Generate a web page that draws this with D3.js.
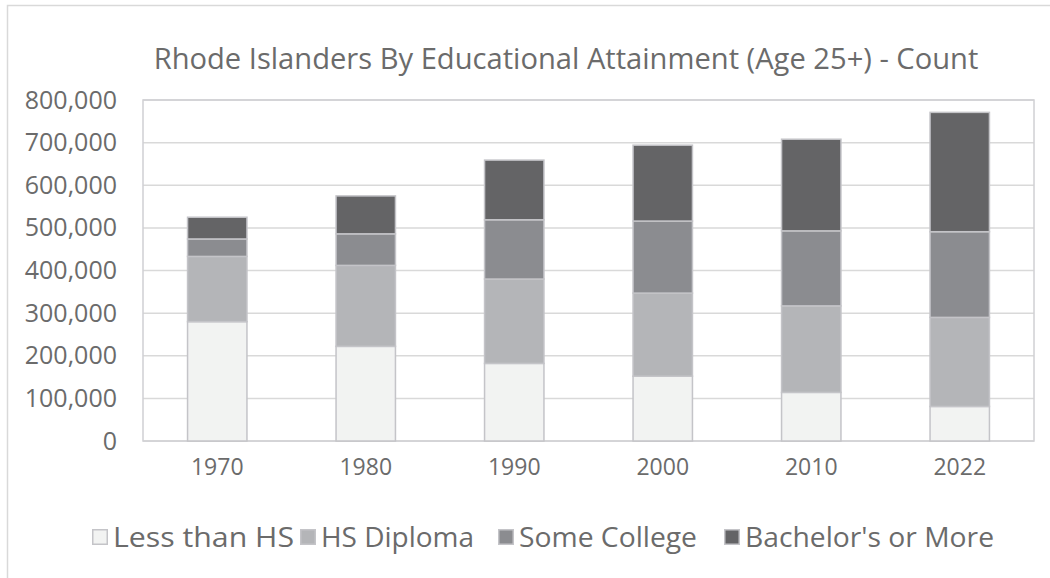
<!DOCTYPE html>
<html><head><meta charset="utf-8">
<script src="https://cdn.jsdelivr.net/npm/d3@7"></script>
<style>body{margin:0;background:#fff}svg{display:block}text{font-family:"Open Sans",Lato,sans-serif;fill:#6b6b6b}</style>
</head><body><svg id="c" width="1050" height="578"></svg>
<script>
const years = ["1970","1980","1990","2000","2010","2022"];
const seriesNames = ["Less than HS","HS Diploma","Some College","Bachelor's or More"];
const lessThanHS = [280000,222000,182000,152000,114000,81000];
const hsDiploma = [153000,190000,198000,195000,203000,209000];
const someCollege = [41000,74000,139000,169000,176000,201000];
const bachelors = [51000,89000,140000,178000,215000,280000];
const yTicks = [0,100000,200000,300000,400000,500000,600000,700000,800000];
const colors = ["#f2f3f2","#b4b5b8","#8b8c90","#646466"];
const title = "Rhode Islanders By Educational Attainment (Age 25+) - Count";

const svg = d3.select("#c");
const L=143,T=100,R=1034,B=441;
svg.append("rect").attr("x",7.5).attr("y",5.5).attr("width",1100).attr("height",700)
  .attr("fill","none").attr("stroke","#d9d9d9").attr("stroke-width",1.5);

const rows = years.map((y,i)=>({year:y,"Less than HS":lessThanHS[i],"HS Diploma":hsDiploma[i],"Some College":someCollege[i],"Bachelor's or More":bachelors[i]}));
const stack = d3.stack().keys(seriesNames)(rows);
const x = d3.scaleBand().domain(years).range([L,R]).paddingInner(0.6).paddingOuter(0.3);
const y = d3.scaleLinear().domain([0,800000]).range([B,T]);

svg.append("g").selectAll("line").data(yTicks).join("line")
  .attr("x1",L).attr("x2",R).attr("y1",d=>y(d)).attr("y2",d=>y(d))
  .attr("stroke","#d9d9d9").attr("stroke-width",1.5);
svg.append("rect").attr("x",L).attr("y",T).attr("width",R-L).attr("height",B-T)
  .attr("fill","none").attr("stroke","#d0d0d3").attr("stroke-width",1.5);

svg.append("g").selectAll("g").data(stack).join("g").attr("fill",(d,i)=>colors[i])
  .selectAll("rect").data(d=>d).join("rect")
  .attr("x",d=>x(d.data.year)).attr("width",x.bandwidth())
  .attr("y",d=>y(d[1])).attr("height",d=>y(d[0])-y(d[1]))
  .attr("stroke","#c4c4c8").attr("stroke-width",1.5);

const ya = d3.axisLeft(y).tickValues(yTicks).tickFormat(d3.format(",")).tickSize(0).tickPadding(26);
const gy = svg.append("g").attr("transform",`translate(${L},0)`).call(ya);
gy.select(".domain").remove();
gy.selectAll("text").style("font-size","25px").attr("fill","#6b6b6b").attr("font-family","Open Sans");

const xa = d3.axisBottom(x).tickSize(0).tickPadding(18);
const gx = svg.append("g").attr("transform",`translate(0,${B})`).call(xa);
gx.select(".domain").remove();
gx.selectAll("text").style("font-size","23px").attr("fill","#6b6b6b").attr("font-family","Open Sans");

const tt = svg.append("text").attr("x",566).attr("y",69).attr("text-anchor","middle")
  .style("font-size","26px").text(title);
const tw = tt.node().getComputedTextLength();
tt.style("font-size",(26*825/tw)+"px");

const legX = [92,300,498,724];
const legW = [181,153,178,249];
const lg = svg.append("g").selectAll("g").data(seriesNames).join("g")
  .attr("transform",(d,i)=>`translate(${legX[i]},537)`);
lg.append("rect").attr("x",0.75).attr("y",-7.25).attr("width",14.5).attr("height",14.5)
  .attr("fill",(d,i)=>colors[i]).attr("stroke","#c4c4c8").attr("stroke-width",1.5);
lg.append("text").attr("x",21).attr("dy","0.36em").style("font-size","27px")
  .attr("textLength",(d,i)=>legW[i]).attr("lengthAdjust","spacingAndGlyphs").text(d=>d);
</script></body></html>
